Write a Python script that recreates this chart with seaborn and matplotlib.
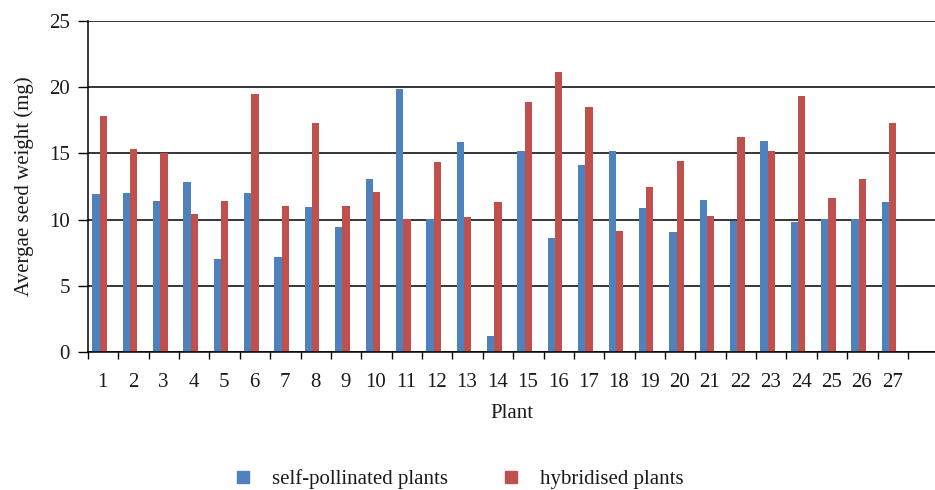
import matplotlib
matplotlib.use("Agg")
import matplotlib.pyplot as plt
from matplotlib.lines import Line2D
import seaborn as sns
import pandas as pd
import numpy as np

plants = [str(i) for i in range(1, 28)]
self_pollinated = [11.9, 12.0, 11.4, 12.85, 7.0, 12.0, 7.2, 10.95, 9.45, 13.1,
                   19.85, 10.05, 15.85, 1.2, 15.2, 8.6, 14.15, 15.2, 10.85, 9.05,
                   11.5, 9.9, 15.95, 9.8, 10.05, 10.05, 11.3]
hybridised = [17.85, 15.3, 15.05, 10.45, 11.4, 19.45, 11.05, 17.3, 11.05, 12.1,
              10.05, 14.35, 10.2, 11.3, 18.9, 21.15, 18.5, 9.15, 12.45, 14.45,
              10.3, 16.25, 15.2, 19.35, 11.6, 13.1, 17.3]
series_names = ["self-pollinated plants", "hybridised plants"]
colors = ["#4F81BD", "#C0504D"]

df = pd.DataFrame({
    "Plant": plants * 2,
    "weight": self_pollinated + hybridised,
    "series": [series_names[0]] * len(plants) + [series_names[1]] * len(plants),
})

sns.set_theme(style="white")
plt.rcParams['font.family'] = ['Liberation Serif', 'DejaVu Serif']

FS = 15
fig = plt.figure(figsize=(9.35, 4.9), dpi=100)
ax = fig.add_axes([88 / 935, (490 - 352) / 490, 1 - 88 / 935, (352 - 21) / 490])

sns.barplot(data=df, x="Plant", y="weight", hue="series", palette=colors,
            width=0.48, gap=0, saturation=1, ax=ax, legend=False,
            edgecolor="none", linewidth=0)

ax.set_xlim(-0.38, 27.51)
ax.set_ylim(0, 25)
ax.set_yticks(np.arange(0, 26, 5))
ax.yaxis.grid(True, color="black", linewidth=1.1)
ax.set_axisbelow(True)

n = len(plants)
ax.set_xticks(np.arange(n) + 0.1)
ax.set_xticklabels(plants)
ax.set_xticks(np.arange(-1, n) + 0.62, minor=True)
ax.tick_params(axis="x", which="major", length=0, pad=15, labelsize=FS, colors="#1a1a1a")
ax.tick_params(axis="x", which="minor", length=5, width=1, color="black", direction="out", bottom=True)
ax.tick_params(axis="y", which="major", length=7, width=1, color="black", direction="out",
               left=True, pad=6, labelsize=FS, labelcolor="#1a1a1a")

for s in ["top", "right"]:
    ax.spines[s].set_visible(False)
for s in ["left", "bottom"]:
    ax.spines[s].set_color("black")
    ax.spines[s].set_linewidth(1.1)

ax.set_xlabel("Plant", fontsize=FS, color="#1a1a1a", labelpad=9)
ax.set_ylabel("Avergae seed weight (mg)", fontsize=FS, color="#1a1a1a", labelpad=11)

handles = [Line2D([], [], marker="s", linestyle="none", markersize=9,
                  markerfacecolor=c, markeredgecolor=c) for c in colors]
fig.legend(handles, series_names, loc="center", bbox_to_anchor=(0.49, 0.022),
           ncol=2, frameon=False, fontsize=FS, handlelength=1.0, handletextpad=0.9,
           columnspacing=2.5, labelcolor="#1a1a1a")

fig.savefig("out.png", dpi=100)
